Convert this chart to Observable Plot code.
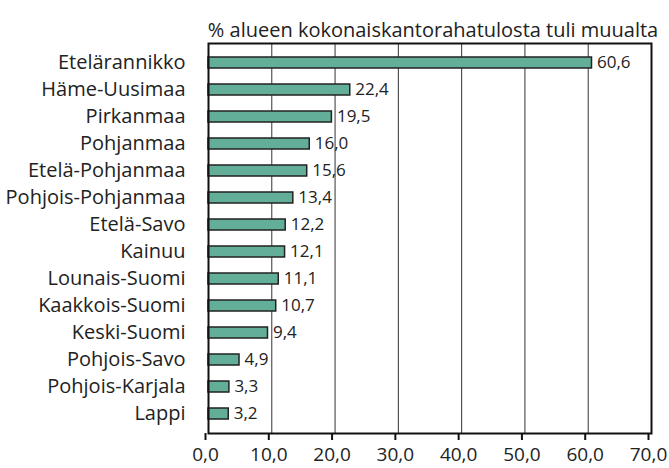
<!DOCTYPE html>
<html>
<head>
<meta charset="utf-8">
<script src="https://cdn.jsdelivr.net/npm/d3@7"></script>
<script src="https://cdn.jsdelivr.net/npm/@observablehq/plot@0.6"></script>
<style>
  html, body { margin: 0; padding: 0; background: #fff; }
</style>
</head>
<body>
<div id="chart"></div>
<script>
const regions = ["Etelärannikko", "Häme-Uusimaa", "Pirkanmaa", "Pohjanmaa", "Etelä-Pohjanmaa",
  "Pohjois-Pohjanmaa", "Etelä-Savo", "Kainuu", "Lounais-Suomi", "Kaakkois-Suomi",
  "Keski-Suomi", "Pohjois-Savo", "Pohjois-Karjala", "Lappi"];
const values = [60.6, 22.4, 19.5, 16.0, 15.6, 13.4, 12.2, 12.1, 11.1, 10.7, 9.4, 4.9, 3.3, 3.2];
const xTicks = [0, 10, 20, 30, 40, 50, 60, 70];
const title = "% alueen kokonaiskantorahatulosta tuli muualta";

const data = regions.map((r, i) => ({region: r, value: values[i]}));
const fmt = v => v.toFixed(1).replace(".", ",");
const FONT = "'Open Sans', sans-serif";

const chart = Plot.plot({
  width: 669,
  height: 468,
  marginLeft: 208,
  marginRight: 18,
  marginTop: 43,
  marginBottom: 35,
  style: {fontFamily: FONT, fontSize: "20px", color: "#222", background: "#fff"},
  x: {domain: [0, 70], ticks: xTicks, tickFormat: fmt, label: null},
  y: {domain: regions, label: null, paddingInner: 0.6, paddingOuter: 0.3},
  marks: [
    Plot.gridX(xTicks, {stroke: "#333", strokeOpacity: 1, strokeWidth: 1}),
    Plot.barX(data, {y: "region", x: "value", fill: "#62ae98", stroke: "#222", strokeWidth: 1.5}),
    Plot.text(data, {y: "region", x: "value", text: d => fmt(d.value), textAnchor: "start", dx: 5, fontSize: 17, fill: "#222"}),
    Plot.frame({stroke: "#111", strokeWidth: 2}),
    Plot.axisX({ticks: xTicks, tickFormat: fmt, tickSize: 7, tickPadding: 7, dx: -3, stroke: "#111", strokeWidth: 2, fontSize: 19, label: null}),
    Plot.axisY({tickSize: 0, tickPadding: 23, fontSize: 20, label: null}),
    Plot.text([title], {frameAnchor: "top", dy: -21, dx: 3, fontSize: 20, fill: "#222"})
  ]
});
document.getElementById("chart").append(chart);
</script>
</body>
</html>
